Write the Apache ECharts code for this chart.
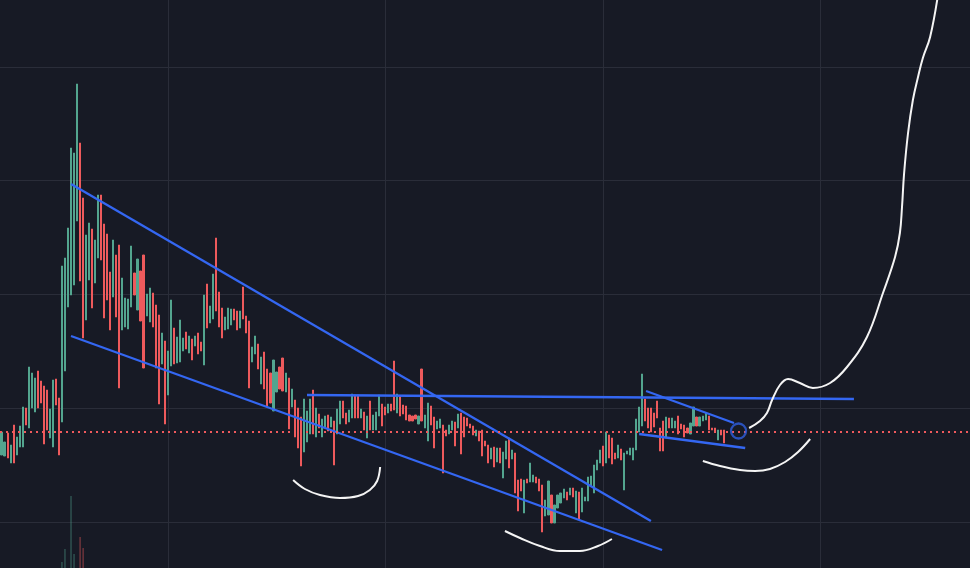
<!DOCTYPE html>
<html>
<head>
<meta charset="utf-8">
<script src="https://cdn.jsdelivr.net/npm/echarts@6/dist/echarts.min.js"></script>
<style>
html,body{margin:0;padding:0;background:#171a25;}
#chart{width:970px;height:568px;}
</style>
</head>
<body>
<div id="chart"></div>
<script>
// ---- Candle data (price units) ----
const opens = [
1.45,1.44,1.67,1.37,1.75,1.45,1.53,1.53,1.92,1.72,
1.92,1.88,2.29,2.19,2.14,2.10,1.62,1.53,2.21,2.02,
1.78,2.29,2.93,3.05,3.15,3.79,4.57,4.02,2.80,3.20,
3.71,3.17,3.42,4.05,3.76,3.66,3.28,3.03,3.45,3.55,
2.70,2.73,2.71,2.93,3.27,2.90,3.29,3.45,2.84,2.78,
3.07,2.95,2.85,2.36,2.59,2.05,2.34,2.72,2.37,2.38,
2.49,2.68,2.47,2.61,2.54,2.67,2.58,2.35,3.16,2.77,
2.81,3.62,3.08,2.92,2.70,2.71,2.75,2.91,2.89,2.72,
3.13,2.84,2.79,2.38,2.46,2.56,2.16,2.48,2.31,2.27,
1.89,2.08,2.33,2.42,2.08,2.22,1.93,2.00,1.92,1.83,
1.48,1.58,1.66,2.10,1.63,1.86,1.63,1.73,1.85,1.73,
1.79,1.66,1.76,1.99,1.87,1.78,1.82,2.05,2.05,1.82,
1.88,1.62,1.99,1.70,1.70,1.84,1.96,1.93,1.87,1.96,
2.39,1.87,2.04,1.95,1.94,1.85,1.84,1.85,1.76,2.31,
1.72,1.59,1.94,1.83,1.71,1.72,1.75,1.70,1.66,1.70,
1.78,1.72,1.87,1.83,1.82,1.76,1.74,1.64,1.69,1.70,
1.59,1.55,1.41,1.53,1.38,1.52,1.22,1.41,1.62,1.41,
1.47,1.20,1.21,0.87,1.21,1.18,1.18,1.23,1.21,1.15,
0.84,0.85,1.05,0.77,0.92,0.97,1.02,1.08,1.05,1.12,
0.87,1.08,0.88,0.99,0.99,1.14,1.07,1.30,1.37,1.54,
1.37,1.65,1.62,1.47,1.42,1.51,1.10,1.46,1.45,1.40,
1.50,1.68,1.74,2.01,1.92,1.92,1.87,1.99,1.72,1.79,
1.62,1.82,1.72,1.72,1.84,1.76,1.75,1.72,1.66,1.74,
1.83,1.74,1.79,1.80,1.84,1.72,1.72,1.60,1.70,1.70
];
const closes = [
1.68,1.58,1.42,1.55,1.37,1.63,1.74,1.93,1.75,2.33,
2.27,2.22,1.92,1.97,1.56,1.70,1.91,2.20,1.95,1.45,
3.34,3.42,3.72,4.52,4.47,5.16,3.19,2.62,3.65,3.77,
2.92,3.60,4.05,3.40,2.82,3.00,2.70,3.60,2.83,2.12,
3.22,3.02,3.01,3.54,3.05,3.41,2.79,2.32,3.06,3.12,
2.73,2.32,1.96,2.67,1.76,2.49,3.00,2.36,2.63,2.80,
2.62,2.51,2.64,2.40,2.64,2.46,2.49,3.05,2.72,2.94,
3.26,2.89,2.73,2.62,2.83,2.92,2.91,2.80,2.70,2.89,
2.81,2.67,2.12,2.53,2.64,2.31,2.43,2.11,1.94,1.97,
2.40,2.28,2.11,2.09,2.27,1.71,2.11,1.63,1.52,1.34,
2.01,1.89,2.01,1.66,1.92,1.72,1.81,1.84,1.69,1.83,
1.35,1.91,1.99,1.82,1.76,1.90,2.06,1.82,1.82,1.91,
1.70,1.84,1.70,1.85,1.88,2.05,1.74,1.85,1.96,1.89,
1.90,2.06,1.84,1.86,1.80,1.79,1.79,1.81,1.84,1.79,
1.85,1.97,1.75,1.52,1.79,1.81,1.27,1.64,1.75,1.79,
1.54,1.86,1.46,1.63,1.74,1.72,1.65,1.70,1.59,1.44,
1.54,1.37,1.52,1.33,1.52,1.37,1.48,1.59,1.32,1.50,
1.07,0.89,1.09,1.20,1.17,1.37,1.25,1.17,1.09,0.68,
1.00,1.19,0.77,0.95,1.05,1.07,1.11,1.00,1.12,1.03,
1.09,0.81,1.12,1.03,1.23,1.24,1.35,1.40,1.50,1.34,
1.68,1.42,1.36,1.41,1.55,1.40,1.47,1.49,1.52,1.52,
1.81,1.93,2.26,1.79,1.72,1.68,1.73,1.82,1.49,1.49,
1.83,1.72,1.82,1.79,1.66,1.71,1.63,1.67,1.77,1.93,
1.74,1.83,1.84,1.87,1.70,1.70,1.68,1.70,1.65,1.57
];
// volume (first candles; later bars are too small to show)
const volumes = [
0,0,0,0,0,0,0,0,0,0,
0,0,0,0,0,0,0,0,0,0,
85,268,0,1014,197,0,437,282,0,0
];
const lastPrice = 1.68;

// category slots: candles plus empty space to the right
const categories = Array.from({length: 321}, (_, i) => 'B' + (i + 1));

// grid line levels (price) and time positions (bar index)
const priceGridLevels = [0.775, 1.915, 3.055, 4.195, 5.335];
const timeGridLevels = [55.26, 127.07, 199.22, 271.03];

// ---- Drawings (bar index, price) ----
const wedgeUpper = [[23.0, 4.16], [214.9, 0.79]];
const wedgeLower = [[23.0, 2.64], [218.6, 0.50]];
const resistance = [[101.1, 2.05], [282.1, 2.01]];
const flagUpper = [[213.3, 2.09], [242.4, 1.77]];
const flagLower = [[211.0, 1.66], [246.1, 1.52]];
const marker = [[243.9, 1.69]];
const cup1 = [[96.5,1.20],[100.4,1.11],[105.4,1.05],[112.0,1.02],[118.0,1.04],[121.9,1.10],[124.3,1.19],[125.3,1.33]];
const cup2 = [[166.6,0.69],[171.6,0.62],[178.2,0.54],[184.8,0.49],[191.4,0.49],[197.4,0.54],[202.0,0.61]];
const cup3 = [[232.1,1.39],[237.8,1.34],[244.4,1.30],[249.4,1.29],[254.3,1.31],[259.3,1.38],[263.6,1.48],[267.6,1.61]];
const projection = [
[247.4,1.72],[251.0,1.79],[253.3,1.87],[255.0,2.00],[257.6,2.15],[260.3,2.21],[264.2,2.17],
[268.5,2.12],[274.2,2.17],[279.8,2.33],[286.4,2.63],[291.7,3.07],[295.7,3.43],[297.3,3.67],
[298.0,3.93],[298.7,4.27],[300.0,4.67],[301.6,5.00],[303.3,5.23],[304.9,5.42],[307.3,5.63],[309.9,6.05]
];

const UP = '#53a58f';
const DOWN = '#ee5a5c';
const BLUE = '#3467f2';
const GRIDC = '#2a2d39';

const candleData = opens.map((o, i) => {
  const c = closes[i];
  return [o, c, Math.min(o, c), Math.max(o, c)];
});
const volumeData = volumes.map((v, i) => ({
  value: v,
  itemStyle: { color: closes[i] >= opens[i] ? 'rgba(83,165,143,0.6)' : 'rgba(238,90,92,0.6)' }
}));

function lineSeries(data, color, smooth, width) {
  return {
    type: 'line', xAxisIndex: 1, yAxisIndex: 0, data: data,
    symbol: 'none', smooth: smooth ? 0.4 : false, silent: true,
    lineStyle: { color: color, width: width }, z: 5
  };
}

const gridMarks = priceGridLevels.map(v => ({ yAxis: v }))
  .concat(timeGridLevels.map(v => ({ xAxis: v })));

const chart = echarts.init(document.getElementById('chart'), null, { renderer: 'canvas' });
chart.setOption({
  animation: false,
  backgroundColor: '#171a25',
  grid: [{ left: 0, right: 0, top: 0, bottom: 0 }],
  xAxis: [
    { type: 'category', data: categories, boundaryGap: true, show: false },
    { type: 'value', min: -0.5, max: 320.5, show: false }
  ],
  yAxis: [
    { type: 'value', min: 0.32, max: 6.00, show: false },
    { type: 'value', min: 0, max: 8000, show: false }
  ],
  series: [
    {
      type: 'line', xAxisIndex: 1, yAxisIndex: 0, data: [[-10, -10]], symbol: 'none',
      silent: true, z: 0, lineStyle: { width: 0 },
      markLine: {
        silent: true, symbol: ['none', 'none'], label: { show: false }, z: 0,
        lineStyle: { color: GRIDC, type: 'solid', width: 1 },
        emphasis: { disabled: true },
        data: gridMarks
      }
    },
    {
      type: 'bar', xAxisIndex: 0, yAxisIndex: 1, data: volumeData, barWidth: 1, silent: true, z: 1
    },
    {
      type: 'candlestick', xAxisIndex: 0, yAxisIndex: 0, data: candleData, barWidth: 1.6,
      itemStyle: { color: UP, color0: DOWN, borderColor: UP, borderColor0: DOWN, borderWidth: 1 },
      z: 3,
      markLine: {
        silent: true, symbol: ['none', 'none'], label: { show: false },
        lineStyle: { color: '#f05a5d', type: [2, 4], width: 2.2, cap: 'butt' },
        emphasis: { disabled: true },
        data: [{ yAxis: lastPrice }], z: 6
      }
    },
    lineSeries(wedgeUpper, BLUE, false, 2.3),
    lineSeries(wedgeLower, BLUE, false, 2.3),
    lineSeries(resistance, BLUE, false, 2.3),
    lineSeries(flagUpper, BLUE, false, 2.3),
    lineSeries(flagLower, BLUE, false, 2.3),
    lineSeries(cup1, '#f4f4f4', true, 2),
    lineSeries(cup2, '#f4f4f4', true, 2),
    lineSeries(cup3, '#f4f4f4', true, 2),
    lineSeries(projection, '#f4f4f4', true, 2),
    {
      type: 'scatter', xAxisIndex: 1, yAxisIndex: 0, data: marker, symbol: 'circle', symbolSize: 15,
      itemStyle: { color: 'rgba(0,0,0,0)', borderColor: '#2f5fe0', borderWidth: 2.3 }, z: 7, silent: true
    }
  ]
});
</script>
</body>
</html>
